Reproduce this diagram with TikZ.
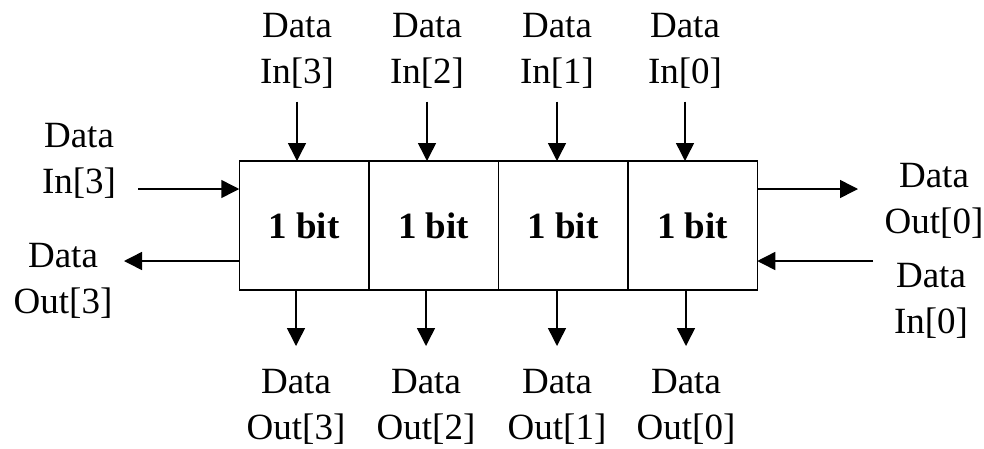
\documentclass[tikz,border=0pt]{standalone}
\usepackage{fontspec}
\setmainfont{Liberation Serif}
\usepackage{tikz}
\usetikzlibrary{arrows.meta, positioning, calc}

\begin{document}
\begin{tikzpicture}[x=1pt, y=-1pt,
    cell/.style={rectangle, draw, line width=1.5pt, minimum width=129.5pt, minimum height=129pt, inner sep=0pt, outer sep=0pt, font=\fontsize{37}{46}\selectfont\bfseries},
    lbl/.style={align=center, inner sep=0pt, anchor=north, font=\fontsize{37}{46}\selectfont},
    arrow/.style={line width=1.5pt, -{Triangle[length=18pt, width=18pt]}}]

    \useasboundingbox (0,0) rectangle (984,448);

    % the four cells
    \node[cell] (c3) at (304,225.5) {1 bit};
    \node[cell, right=0pt of c3] (c2) {1 bit};
    \node[cell, right=0pt of c2] (c1) {1 bit};
    \node[cell, right=0pt of c1] (c0) {1 bit};

    % labels on top and below
    \node[lbl] (tin3) at (297,13) {Data\\In[3]};
    \node[lbl] (tin2) at (427,13) {Data\\In[2]};
    \node[lbl] (tin1) at (557,13) {Data\\In[1]};
    \node[lbl] (tin0) at (685,13) {Data\\In[0]};
    \node[lbl] (bout3) at (296,369) {Data\\Out[3]};
    \node[lbl] (bout2) at (426,369) {Data\\Out[2]};
    \node[lbl] (bout1) at (557,369) {Data\\Out[1]};
    \node[lbl] (bout0) at (686,369) {Data\\Out[0]};

    % labels at the sides
    \node[lbl] (lin) at (79,123) {Data\\In[3]};
    \node[lbl] (lout) at (63,243) {Data\\Out[3]};
    \node[lbl] (rout) at (934,163) {Data\\Out[0]};
    \node[lbl] (rin) at (931,263) {Data\\In[0]};

    \coordinate (lina) at (138,189);
    \coordinate (louta) at (124,261);
    \coordinate (routa) at (858,189);
    \coordinate (rina) at (873,261);

    \draw[arrow] ([yshift=-13pt]tin3.south) -- (tin3.south |- c3.north);
    \draw[arrow] ([yshift=-13pt]tin2.south) -- (tin2.south |- c2.north);
    \draw[arrow] ([yshift=-13pt]tin1.south) -- (tin1.south |- c1.north);
    \draw[arrow] ([yshift=-13pt]tin0.south) -- (tin0.south |- c0.north);

    \draw[arrow] (bout3.north |- c3.south) -- ([yshift=23pt]bout3.north);
    \draw[arrow] (bout2.north |- c2.south) -- ([yshift=23pt]bout2.north);
    \draw[arrow] (bout1.north |- c1.south) -- ([yshift=23pt]bout1.north);
    \draw[arrow] (bout0.north |- c0.south) -- ([yshift=23pt]bout0.north);

    \draw[arrow] (lina) -- (lina -| c3.west);
    \draw[arrow] (louta -| c3.west) -- (louta);
    \draw[arrow] (routa -| c0.east) -- (routa);
    \draw[arrow] (rina) -- (rina -| c0.east);
\end{tikzpicture}
\end{document}
